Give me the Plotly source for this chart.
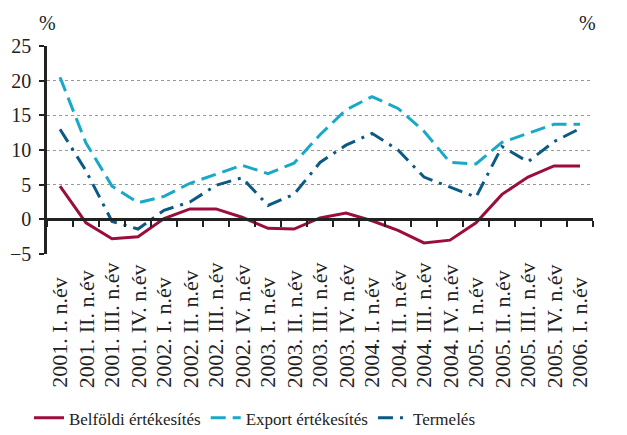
import plotly.graph_objects as go

categories = [
    "2001. I. n.év", "2001. II. n.év", "2001. III. n.év", "2001. IV. n.év",
    "2002. I. n.év", "2002. II. n.év", "2002. III. n.év", "2002. IV. n.év",
    "2003. I. n.év", "2003. II. n.év", "2003. III. n.év", "2003. IV. n.év",
    "2004. I. n.év", "2004. II. n.év", "2004. III. n.év", "2004. IV. n.év",
    "2005. I. n.év", "2005. II. n.év", "2005. III. n.év", "2005. IV. n.év",
    "2006. I. n.év",
]
belfoldi = [4.8, -0.5, -2.8, -2.5, 0.1, 1.5, 1.5, 0.3, -1.3, -1.4, 0.2,
            0.9, -0.2, -1.6, -3.4, -3.0, -0.5, 3.6, 6.1, 7.7, 7.7]
export = [20.5, 11.0, 4.8, 2.4, 3.3, 5.2, 6.5, 7.8, 6.6, 8.1, 12.2,
          15.8, 17.7, 16.0, 12.7, 8.2, 8.0, 11.1, 12.4, 13.7, 13.7]
termeles = [13.0, 7.0, -0.3, -1.4, 1.3, 2.5, 4.9, 6.0, 2.0, 3.6, 8.2,
            10.7, 12.4, 10.0, 6.1, 4.7, 3.2, 10.5, 8.3, 11.2, 13.1]

FONT = "Liberation Serif, Times New Roman, serif"
INK = "#222"

fig = go.Figure()
fig.add_trace(go.Scatter(x=categories, y=belfoldi, name="Belföldi értékesítés",
                         mode="lines", line=dict(color="#9b0d3d", width=3)))
fig.add_trace(go.Scatter(x=categories, y=export, name="Export értékesítés",
                         mode="lines", line=dict(color="#18a9c9", width=3, dash="15px,7px")))
fig.add_trace(go.Scatter(x=categories, y=termeles, name="Termelés",
                         mode="lines", line=dict(color="#0b5a85", width=3, dash="15px,7px,3px,7px")))

# category labels below the plot, bottom-aligned like the original
annots = []
for c in categories:
    annots.append(dict(x=c, xref="x", y=-0.655, yref="paper", text=c, textangle=-90,
                       showarrow=False, xanchor="center", yanchor="bottom",
                       font=dict(family=FONT, size=22, color=INK)))
annots.append(dict(x=0, xref="paper", y=1.05, yref="paper", text="%", showarrow=False,
                   xanchor="center", yanchor="bottom", font=dict(family=FONT, size=20, color=INK)))
annots.append(dict(x=1, xref="paper", y=1.05, yref="paper", text="%", showarrow=False, xshift=5,
                   xanchor="right", yanchor="bottom", font=dict(family=FONT, size=20, color=INK)))

# the page body has an 8px margin, so the figure is 8px smaller and shifted
fig.update_layout(
    width=619, height=427,
    margin=dict(l=39, r=34, t=38, b=181, autoexpand=False),
    paper_bgcolor="white", plot_bgcolor="white",
    font=dict(family=FONT, size=17, color=INK),
    annotations=annots,
    showlegend=True,
    legend=dict(orientation="h", x=-0.033, xanchor="left", y=-0.79, yanchor="middle",
                font=dict(family=FONT, size=17), itemwidth=30, tracegroupgap=0),
    xaxis=dict(type="category", range=[-0.5, 20.5], anchor="free", position=1/6,
               showline=True, linecolor=INK, linewidth=2.5,
               ticks="outside", tickson="boundaries", ticklen=6, tickwidth=2, tickcolor=INK,
               showticklabels=False, showgrid=False, zeroline=False),
    yaxis=dict(range=[-5, 25], dtick=5, showline=True, linecolor=INK, linewidth=2.5,
               ticks="outside", ticklen=5, tickwidth=2, tickcolor=INK, ticklabelstandoff=4,
               showgrid=True, gridcolor="#999", griddash="dot", gridwidth=1,
               zeroline=False, tickfont=dict(size=20)),
    yaxis2=dict(range=[-5, 25], dtick=5, overlaying="y", side="right", anchor="x",
                showline=True, linecolor=INK, linewidth=2.5,
                ticks="outside", ticklen=5, tickwidth=2, tickcolor=INK, ticklabelstandoff=4,
                showgrid=False, zeroline=False, tickfont=dict(size=20)),
)

fig.write_html("out.html")
